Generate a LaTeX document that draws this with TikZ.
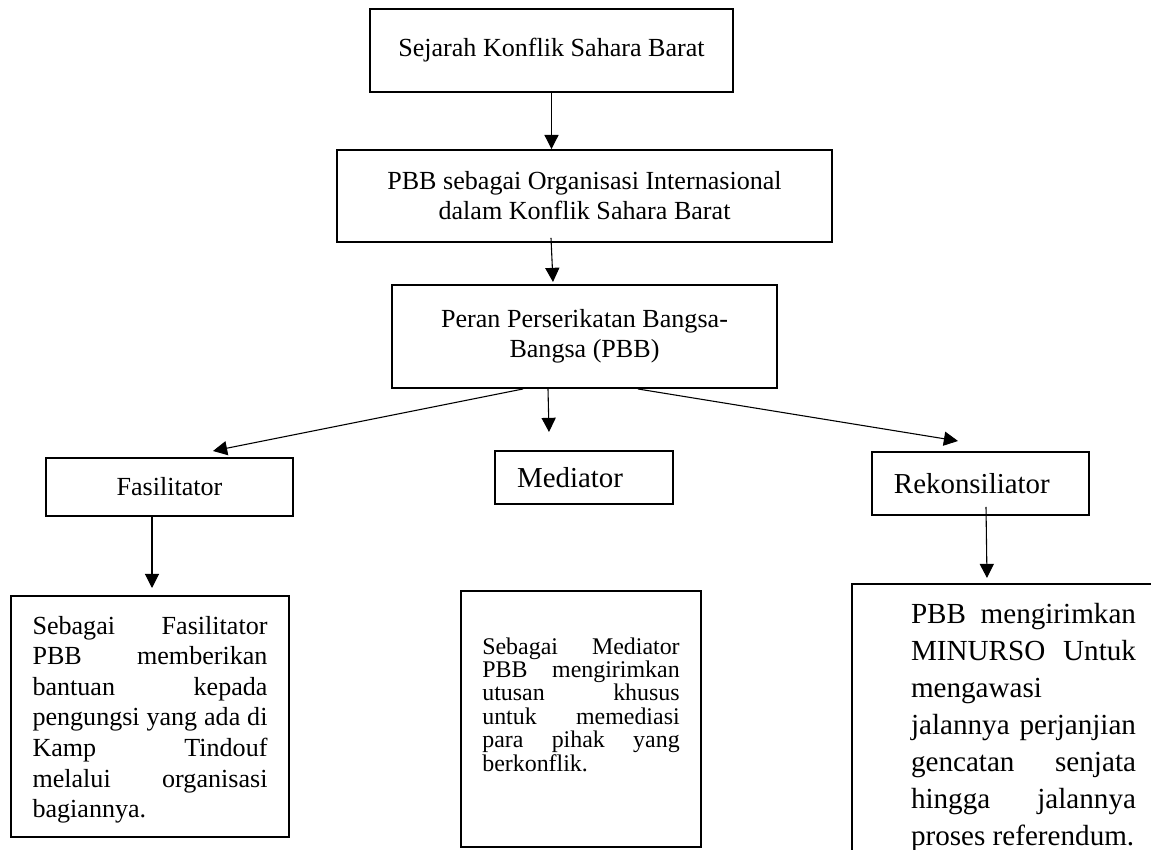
\documentclass[tikz,border=0pt]{standalone}
\usepackage{fontspec}
\setmainfont{Liberation Serif}
\usetikzlibrary{arrows.meta, calc, positioning}
\hyphenpenalty=10000
\exhyphenpenalty=10000
\tikzset{
>={Triangle[length=6.5pt, width=6.5pt]}, % filled heads, as in the sketch
kotak/.style={draw, line width=0.9pt, inner sep=0pt, align=center, font=\fontsize{12pt}{13.8pt}\selectfont}, % the short boxes
ket/.style={draw, line width=0.9pt, anchor=north, inner ysep=0pt, align=justify}, % the boxes with long text
panah/.style={->, line width=0.5pt}, % connectors
}

\begin{document}
\begin{tikzpicture}[x=0.46pt, y=-0.46pt]
        \useasboundingbox (0,0) rectangle (1151,850);
        \clip (0,0) rectangle (1151,850);

        \node[kotak, minimum width=167pt, minimum height=38.2pt] (sejarah) at (551.5,50.5) {Sejarah Konflik Sahara Barat};
        \node[kotak, minimum width=227.7pt, minimum height=42.3pt] (pbb) at (584.5,196) {PBB sebagai Organisasi Internasional\\ dalam Konflik Sahara Barat};
        \node[kotak, minimum width=177.1pt, minimum height=47.4pt] (peran) at (584.5,336.5) {Peran Perserikatan Bangsa-\\ Bangsa (PBB)};
        \node[kotak, minimum width=113.6pt, minimum height=26.7pt] (fasil) at (169.5,487) {Fasilitator};
        \node[kotak, align=left, inner xsep=10.1pt, text width=61.6pt, minimum height=24.4pt, font=\fontsize{13.3pt}{16pt}\selectfont] (mediator) at (584,477.5) {Mediator};
        \node[kotak, align=left, inner xsep=10.1pt, text width=79.6pt, minimum height=29pt, font=\fontsize{13.3pt}{16pt}\selectfont] (rekon) at (980.5,483.5) {Rekonsiliator};

        % long text under each role
        \node[ket, text width=108.1pt, inner xsep=9.7pt, text height=17.5pt, text depth=93.4pt, font=\fontsize{12pt}{14.1pt}\selectfont] (fasilket) at (150,595)
        {Sebagai Fasilitator\linebreak PBB memberikan\linebreak bantuan kepada\linebreak pengungsi yang ada di\linebreak Kamp Tindouf\linebreak melalui organisasi\linebreak bagiannya.};
        \node[ket, text width=90.8pt, inner xsep=9.6pt, text height=29pt, text depth=88.8pt, font={\fontsize{11pt}{10.8pt}\selectfont\lineskiplimit=-20pt}] (mediatorket) at (581,590)
        {Sebagai Mediator\linebreak PBB mengirimkan\linebreak utusan khusus\linebreak untuk memediasi\linebreak para pihak yang\linebreak berkonflik.};
        \node[ket, text width=103.5pt, inner xsep=27.1pt, text height=18.4pt, text depth=118pt, font=\fontsize{13.4pt}{17pt}\selectfont] (rekonket) at (1023.5,583)
        {PBB mengirimkan\linebreak MINURSO Untuk\linebreak mengawasi\linebreak jalannya perjanjian\linebreak gencatan senjata\linebreak hingga jalannya\linebreak proses referendum.};

        \path[panah] (sejarah.south) edge (sejarah.south |- pbb.north)
        ($(pbb.south)+(-33.5,-5)$) edge ($(peran.north)+(-31.5,-2)$)
        ($(peran.south)+(-61.5,0)$) edge ($(fasil.north)+(43.5,-6)$)
        ($(peran.south)+(-36.5,0)$) edge ($(mediator.north)+(-35,-18)$)
        ($(peran.south)+(53.5,0)$) edge ($(rekon.north)+(-22.5,-10)$)
        ($(fasil.south)+(-17.5,0)$) edge ($(fasilket.north)+(2,-7)$)
        ($(rekon.south)+(5.5,-9)$) edge ($(rekonket.north)+(-36.5,-5)$);
      \end{tikzpicture}
\end{document}
